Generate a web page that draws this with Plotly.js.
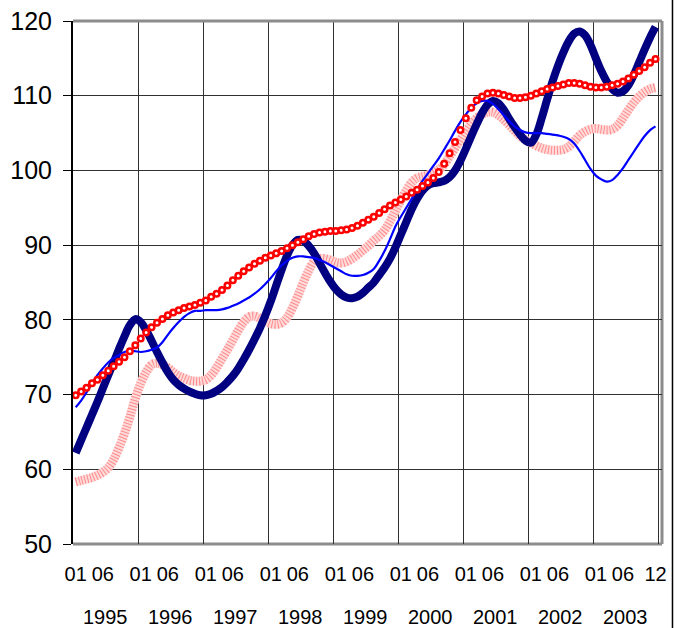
<!DOCTYPE html>
<html>
<head>
<meta charset="utf-8">
<script src="https://cdn.plot.ly/plotly-3.0.1.min.js"></script>
<style>html,body{margin:0;padding:0;background:#fff;}#chart{width:681px;height:628px;}</style>
</head>
<body>
<div id="chart"></div>
<script>
// Monthly index 0 = Jan 1995 ... 107 = Dec 2003
const years = ["1995","1996","1997","1998","1999","2000","2001","2002","2003"];
const monthTickIdx = [0,5,12,17,24,29,36,41,48,53,60,65,72,77,84,89,96,101,107];
const monthTickText = ["01","06","01","06","01","06","01","06","01","06","01","06","01","06","01","06","01","06","12"];
const yearCenters = [5.5,17.5,29.5,41.5,53.5,65.5,77.5,89.5,101.5];

const navySeries = [
62.2,63.9,65.6,67.3,69.0,70.8,72.6,74.3,76.1,77.8,79.3,80.1,
79.7,78.6,77.2,75.7,74.3,73.0,72.0,71.3,70.8,70.4,70.1,69.9,
69.9,70.1,70.5,71.0,71.7,72.5,73.5,74.7,76.0,77.4,78.9,80.6,
82.5,84.6,86.7,88.6,90.0,90.7,90.6,89.9,88.9,87.6,86.3,85.1,
84.1,83.4,83.0,82.9,83.1,83.6,84.3,85.0,86.0,87.0,88.2,89.7,
91.4,93.1,94.8,96.2,97.3,98.0,98.3,98.4,98.6,99.1,100.0,101.3,
102.9,104.6,106.2,107.7,108.8,109.3,109.0,108.1,106.9,105.8,104.8,104.0,
103.7,104.8,107.0,109.5,111.9,114.0,115.8,117.3,118.3,118.6,118.1,116.8,
115.0,113.3,111.9,110.9,110.4,110.6,111.4,112.8,114.5,116.2,117.8,119.2
];
const blueSeries = [
68.3,69.2,70.3,71.5,72.6,73.5,74.3,74.9,75.3,75.7,75.9,75.8,
75.7,75.8,76.0,76.3,77.0,78.0,78.9,79.7,80.4,80.9,81.2,81.2,
81.3,81.3,81.3,81.4,81.6,81.9,82.2,82.6,83.0,83.5,84.1,84.8,
85.6,86.5,87.3,87.9,88.3,88.5,88.5,88.4,88.3,88.0,87.7,87.3,
86.9,86.5,86.1,85.9,85.9,86.0,86.3,86.8,87.9,89.2,90.8,92.5,
93.8,95.0,96.2,97.4,98.6,99.6,100.6,101.6,102.8,104.0,105.3,106.5,
107.5,108.4,109.0,109.3,109.3,108.9,108.2,107.4,106.6,105.9,105.4,105.1,
105.0,105.0,105.0,104.9,104.8,104.7,104.5,104.2,103.6,102.6,101.4,100.2,
99.3,98.8,98.5,98.7,99.4,100.3,101.4,102.5,103.6,104.6,105.4,105.9
];
const redSeries = [
69.9,70.4,70.9,71.5,72.0,72.6,73.2,73.8,74.4,75.0,75.8,76.6,
77.5,78.3,79.0,79.6,80.1,80.6,81.0,81.3,81.6,81.8,82.0,82.3,
82.6,83.1,83.5,84.0,84.6,85.3,85.9,86.5,87.0,87.5,87.9,88.3,
88.6,88.9,89.2,89.6,90.0,90.4,90.8,91.2,91.5,91.7,91.8,91.9,
91.9,92.0,92.1,92.3,92.6,93.0,93.4,93.8,94.3,94.8,95.3,95.7,
96.1,96.5,97.0,97.4,97.9,98.4,99.0,99.8,100.9,102.3,103.8,105.4,
107.0,108.4,109.4,109.9,110.3,110.4,110.3,110.1,109.9,109.7,109.7,109.8,
110.0,110.3,110.6,110.9,111.1,111.3,111.5,111.7,111.7,111.6,111.4,111.2,
111.1,111.1,111.2,111.4,111.6,111.9,112.3,112.8,113.3,113.8,114.4,114.9
];
const pinkSeries = [
58.3,58.5,58.7,58.9,59.2,59.6,60.2,61.3,62.9,64.8,67.0,69.5,
71.5,73.0,74.0,74.2,74.0,73.6,73.0,72.5,72.2,71.9,71.8,71.8,
72.0,72.6,73.6,74.8,76.0,77.3,78.6,79.7,80.4,80.5,80.2,79.8,
79.5,79.4,79.6,80.3,81.6,83.2,85.0,86.6,87.8,88.2,88.2,88.0,
87.7,87.6,87.8,88.2,88.7,89.3,89.9,90.6,91.2,92.0,93.2,94.6,
96.0,97.3,98.4,99.0,99.2,99.4,99.7,100.1,100.8,101.9,103.0,104.1,
105.2,106.2,107.0,107.5,107.8,107.8,107.4,106.8,106.1,105.3,104.6,104.1,
103.7,103.3,103.0,102.8,102.7,102.7,102.8,103.2,103.9,104.7,105.2,105.5,
105.6,105.5,105.4,105.5,106.0,107.0,108.1,109.1,109.9,110.5,110.9,111.1
];

const xIdx = navySeries.map((_, i) => i);

const traces = [
  {x: xIdx, y: pinkSeries, type: 'scatter', mode: 'lines', line: {color: '#ffdada', width: 9, shape: 'spline'}, hoverinfo: 'skip'},
  {x: xIdx, y: pinkSeries, type: 'scatter', mode: 'lines', line: {color: '#ff6060', width: 9, dash: '1px,2px', shape: 'spline'}, opacity: 0.65, hoverinfo: 'skip'},
  {x: xIdx, y: navySeries, type: 'scatter', mode: 'lines', line: {color: '#000080', width: 8, shape: 'spline'}},
  {x: xIdx, y: blueSeries, type: 'scatter', mode: 'lines', line: {color: '#0000ff', width: 2.2, shape: 'spline'}},
  {x: xIdx, y: redSeries, type: 'scatter', mode: 'markers', marker: {symbol: 'circle', size: 5.5, color: '#ffffff', line: {color: '#ff0000', width: 2.5}}}
];

const annotations = years.map((yr, k) => ({
  x: yearCenters[k], xref: 'x', y: -0.1396, yref: 'paper',
  text: yr, showarrow: false, xanchor: 'center', yanchor: 'middle',
  font: {family: 'Liberation Sans, Arial, sans-serif', size: 20, color: '#000'}
}));

const layout = {
  width: 681, height: 628,
  margin: {l: 73, r: 19, t: 21, b: 84},
  paper_bgcolor: '#ffffff', plot_bgcolor: '#ffffff',
  showlegend: false,
  font: {family: 'Liberation Sans, Arial, sans-serif', color: '#000'},
  xaxis: {
    range: [-0.5, 108.2],
    tickmode: 'array', tickvals: monthTickIdx, ticktext: monthTickText,
    ticks: '', showgrid: false, zeroline: false, showline: false,
    ticklabelstandoff: 16,
    tickfont: {size: 20, family: 'Liberation Sans, Arial, sans-serif', color: '#000'},
    minor: {tick0: -0.5, dtick: 12, showgrid: true, gridcolor: '#303030', gridwidth: 1, ticks: ''}
  },
  yaxis: {
    range: [50, 120], dtick: 10, tick0: 50,
    ticks: 'outside', ticklen: 8, tickcolor: '#000', tickwidth: 1,
    ticklabelstandoff: 6,
    showline: true, linecolor: '#000', linewidth: 2,
    showgrid: true, gridcolor: '#303030', gridwidth: 1, zeroline: false,
    tickfont: {size: 25, family: 'Liberation Sans, Arial, sans-serif', color: '#000'}
  },
  annotations: annotations,
  shapes: [
    {type: 'line', xref: 'paper', yref: 'paper', x0: 0, x1: 1, y0: 1, y1: 1, line: {color: '#8c8c8c', width: 3}, layer: 'above'},
    {type: 'line', xref: 'paper', yref: 'paper', x0: 0, x1: 1, y0: 0, y1: 0, line: {color: '#8c8c8c', width: 3}, layer: 'below'},
    {type: 'line', xref: 'paper', yref: 'paper', x0: 1, x1: 1, y0: 0, y1: 1, line: {color: '#8c8c8c', width: 3}, layer: 'below'},
    {type: 'line', xref: 'paper', yref: 'paper', x0: 1.0178, x1: 1.0178, y0: -0.161, y1: 1.04, line: {color: '#000', width: 1.5}}
  ]
};

Plotly.newPlot('chart', traces, layout, {displayModeBar: false, staticPlot: true});
</script>
</body>
</html>
